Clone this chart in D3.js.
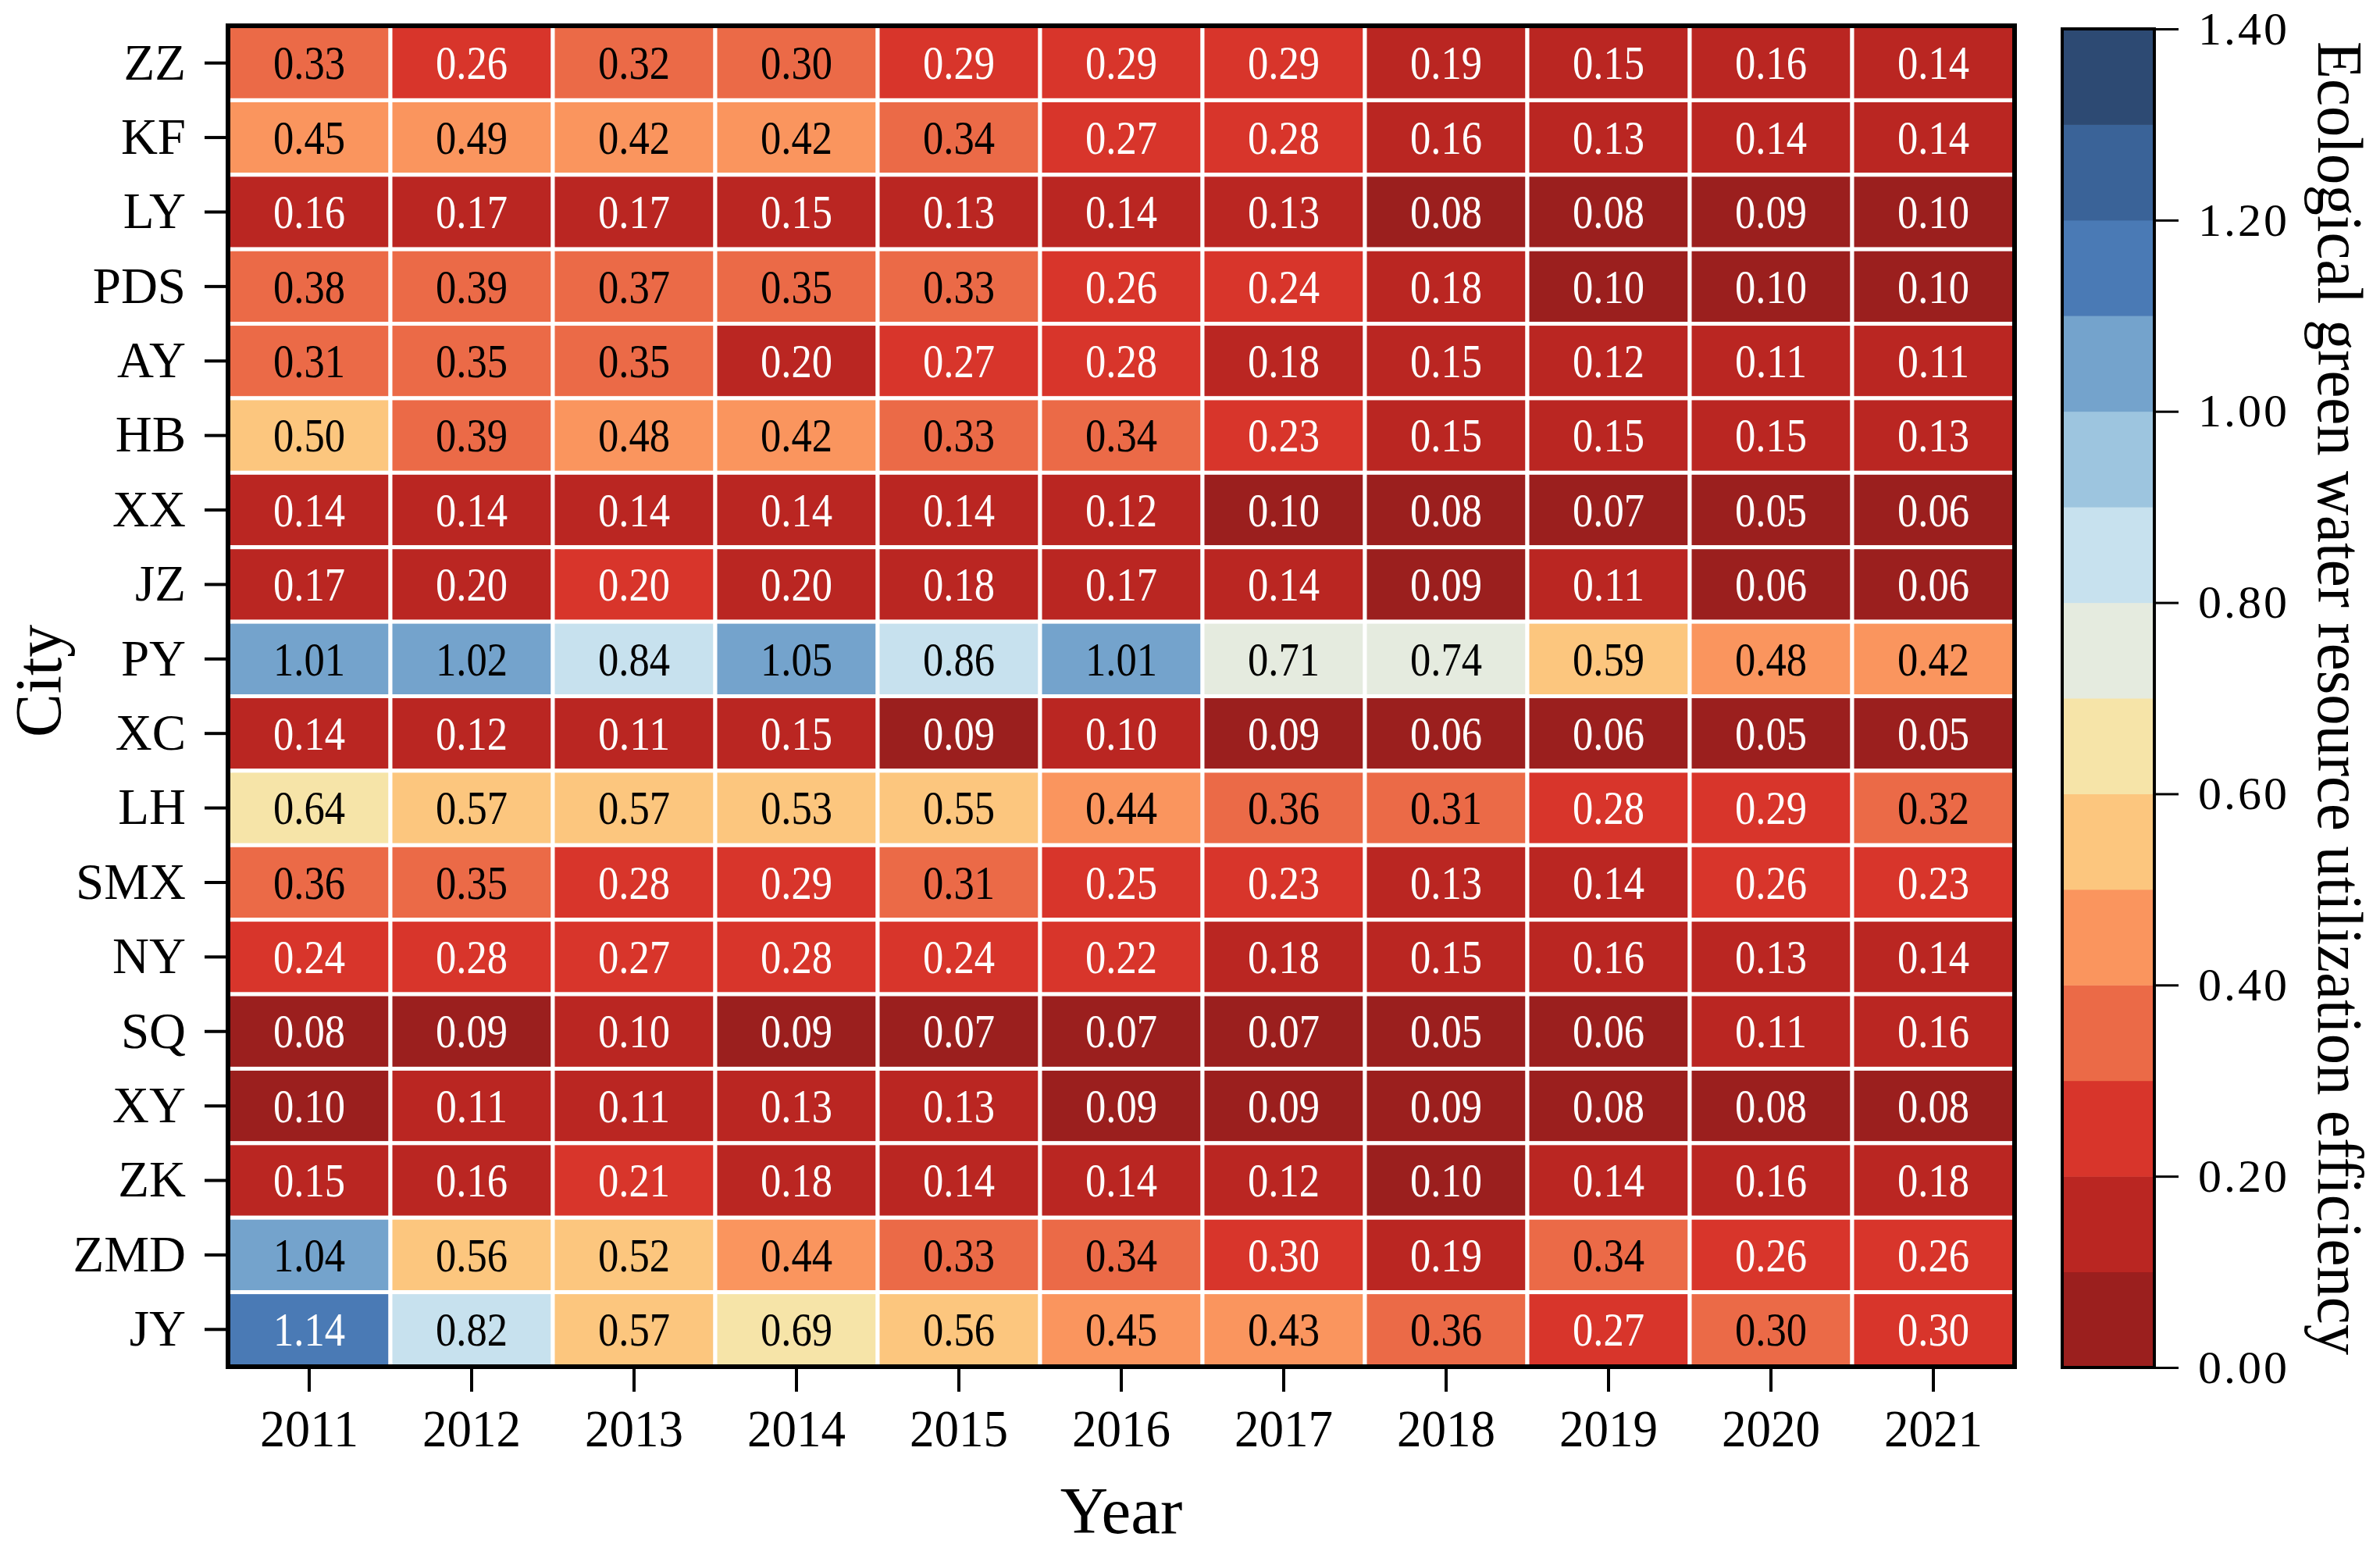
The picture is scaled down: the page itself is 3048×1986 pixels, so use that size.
<!DOCTYPE html>
<html>
<head>
<meta charset="utf-8">
<script src="https://cdn.jsdelivr.net/npm/d3@7"></script>
<style>
	body { margin: 0; background: #fff; }
	svg { display: block; }
</style>
</head>
<body>
<svg id="heatmap"></svg>
<script>
// data
const cities = ['ZZ', 'KF', 'LY', 'PDS', 'AY', 'HB', 'XX', 'JZ', 'PY', 'XC', 'LH', 'SMX', 'NY', 'SQ', 'XY', 'ZK', 'ZMD', 'JY'];
const years = ['2011', '2012', '2013', '2014', '2015', '2016', '2017', '2018', '2019', '2020', '2021'];

// one row per city, one value per year
const efficiency = [
	[0.33, 0.26, 0.32, 0.30, 0.29, 0.29, 0.29, 0.19, 0.15, 0.16, 0.14],
	[0.45, 0.49, 0.42, 0.42, 0.34, 0.27, 0.28, 0.16, 0.13, 0.14, 0.14],
	[0.16, 0.17, 0.17, 0.15, 0.13, 0.14, 0.13, 0.08, 0.08, 0.09, 0.098],
	[0.38, 0.39, 0.37, 0.35, 0.33, 0.26, 0.24, 0.18, 0.098, 0.098, 0.098],
	[0.31, 0.35, 0.35, 0.198, 0.27, 0.28, 0.18, 0.15, 0.12, 0.11, 0.11],
	[0.50, 0.39, 0.48, 0.42, 0.33, 0.34, 0.23, 0.15, 0.15, 0.15, 0.13],
	[0.14, 0.14, 0.14, 0.14, 0.14, 0.12, 0.098, 0.08, 0.07, 0.05, 0.06],
	[0.17, 0.198, 0.20, 0.198, 0.18, 0.17, 0.14, 0.09, 0.11, 0.06, 0.06],
	[1.01, 1.02, 0.84, 1.05, 0.86, 1.01, 0.71, 0.74, 0.59, 0.48, 0.42],
	[0.14, 0.12, 0.11, 0.15, 0.09, 0.10, 0.09, 0.06, 0.06, 0.05, 0.05],
	[0.64, 0.57, 0.57, 0.53, 0.55, 0.44, 0.36, 0.31, 0.28, 0.29, 0.32],
	[0.36, 0.35, 0.28, 0.29, 0.31, 0.25, 0.23, 0.13, 0.14, 0.26, 0.23],
	[0.24, 0.28, 0.27, 0.28, 0.24, 0.22, 0.18, 0.15, 0.16, 0.13, 0.14],
	[0.08, 0.09, 0.10, 0.09, 0.07, 0.07, 0.07, 0.05, 0.06, 0.11, 0.16],
	[0.098, 0.11, 0.11, 0.13, 0.13, 0.09, 0.09, 0.09, 0.08, 0.08, 0.08],
	[0.15, 0.16, 0.21, 0.18, 0.14, 0.14, 0.12, 0.098, 0.14, 0.16, 0.18],
	[1.04, 0.56, 0.52, 0.44, 0.33, 0.34, 0.298, 0.19, 0.34, 0.26, 0.26],
	[1.14, 0.82, 0.57, 0.69, 0.56, 0.45, 0.43, 0.36, 0.27, 0.302, 0.298],
];

// colour bins (0.1 wide) and colorbar ticks
const binEdges = [0.1, 0.2, 0.3, 0.4, 0.5, 0.6, 0.7, 0.8, 0.9, 1.0, 1.1, 1.2, 1.3];
const binColors = ['#9b1f1e', '#ba2622', '#d8352b', '#eb6a47', '#fa955e', '#fcc67e', '#f6e4a8',
	'#e5ebdf', '#c7e1ee', '#9dc5df', '#74a3cc', '#4a7ab5', '#3a6398', '#2d4a73'];
const colorTicks = [0, 0.2, 0.4, 0.6, 0.8, 1.0, 1.2, 1.4];

const width = 3048;
const height = 1986;
const marginLeft = 292;
const marginRight = 2580;
const marginTop = 33;
const marginBottom = 1750;
const font = "'Liberation Serif', 'Times New Roman', serif";

const svg = d3.select('#heatmap')
	.attr('width', width)
	.attr('height', height)
	.attr('viewBox', [0, 0, width, height])
	.style('font-family', font);

const x = d3.scaleBand().domain(years).range([marginLeft, marginRight]);
const y = d3.scaleBand().domain(cities).range([marginTop, marginBottom]);
const color = d3.scaleThreshold().domain(binEdges).range(binColors);

const cells = efficiency.flatMap((row, i) =>
	row.map((v, j) => ({ city: cities[i], year: years[j], value: v }))
);

// cells
svg.append('g')
	.selectAll('rect')
	.data(cells)
	.join('rect')
	.attr('x', (d) => x(d.year))
	.attr('y', (d) => y(d.city))
	.attr('width', x.bandwidth())
	.attr('height', y.bandwidth())
	.attr('fill', (d) => color(d.value))
	.attr('stroke', '#fff')
	.attr('stroke-width', 5);

// cell labels, white on dark cells (narrow, like the original)
const fmt = d3.format('.2f');
svg.append('g')
	.attr('font-size', 61)
	.attr('text-anchor', 'middle')
	.selectAll('text')
	.data(cells)
	.join('text')
	.attr('x', (d) => x(d.year) + x.bandwidth() / 2)
	.attr('y', (d) => y(d.city) + y.bandwidth() / 2)
	.attr('dy', '0.34em')
	.attr('textLength', 92)
	.attr('lengthAdjust', 'spacingAndGlyphs')
	.attr('fill', (d) => (d3.lab(color(d.value)).l < 55 ? '#fff' : '#000'))
	.text((d) => fmt(d.value));

// frame
svg.append('rect')
	.attr('x', marginLeft)
	.attr('y', marginTop)
	.attr('width', marginRight - marginLeft)
	.attr('height', marginBottom - marginTop)
	.attr('fill', 'none')
	.attr('stroke', '#000')
	.attr('stroke-width', 6);

// axes
svg.append('g')
	.attr('transform', `translate(${marginLeft - 3},0)`)
	.call(d3.axisLeft(y).tickSize(27).tickPadding(24))
	.call((g) => g.select('.domain').remove())
	.call((g) => g.selectAll('.tick line').attr('stroke-width', 4))
	.call((g) => g.selectAll('.tick text').attr('font-size', 65).attr('font-family', font).attr('fill', '#000'));

svg.append('g')
	.attr('transform', `translate(0,${marginBottom + 3})`)
	.call(d3.axisBottom(x).tickSize(29).tickPadding(22))
	.call((g) => g.select('.domain').remove())
	.call((g) => g.selectAll('.tick line').attr('stroke-width', 4))
	.call((g) => g.selectAll('.tick text').attr('font-size', 68).attr('font-family', font).attr('fill', '#000')
		.attr('textLength', 126).attr('lengthAdjust', 'spacingAndGlyphs'));

svg.append('text')
	.attr('x', (marginLeft + marginRight) / 2)
	.attr('y', 1963)
	.attr('text-anchor', 'middle')
	.attr('font-size', 85)
	.text('Year');

svg.append('text')
	.attr('transform', 'translate(78,872) rotate(-90)')
	.attr('text-anchor', 'middle')
	.attr('font-size', 84)
	.text('City');

// colorbar
const cbLeft = 2641;
const cbRight = 2759;
const cbY = d3.scaleLinear().domain([0, 1.4]).range([1751, 37]);

const bins = binColors.map((c) => {
	const [lo, hi] = color.invertExtent(c);
	return { color: c, lo: lo ?? cbY.domain()[0], hi: hi ?? cbY.domain()[1] };
});

svg.append('g')
	.selectAll('rect')
	.data(bins)
	.join('rect')
	.attr('x', cbLeft)
	.attr('y', (d) => cbY(d.hi))
	.attr('width', cbRight - cbLeft)
	.attr('height', (d) => cbY(d.lo) - cbY(d.hi) + 0.5)
	.attr('fill', (d) => d.color);

svg.append('rect')
	.attr('x', cbLeft)
	.attr('y', cbY(1.4))
	.attr('width', cbRight - cbLeft)
	.attr('height', cbY(0) - cbY(1.4))
	.attr('fill', 'none')
	.attr('stroke', '#000')
	.attr('stroke-width', 4);

svg.append('g')
	.attr('transform', `translate(${cbRight},0)`)
	.call(d3.axisRight(cbY).tickValues(colorTicks).tickFormat(d3.format('.2f')).tickSize(31).tickPadding(25))
	.call((g) => g.select('.domain').remove())
	.call((g) => g.selectAll('.tick line').attr('stroke-width', 3))
	.call((g) => g.selectAll('.tick text').attr('font-size', 60).attr('font-family', font).attr('letter-spacing', 3).attr('fill', '#000'));

svg.append('text')
	.attr('transform', `translate(2969,${(cbY(0) + cbY(1.4)) / 2}) rotate(90)`)
	.attr('text-anchor', 'middle')
	.attr('font-size', 82)
	.attr('textLength', 1682)
	.attr('lengthAdjust', 'spacingAndGlyphs')
	.text('Ecological green water resource utilization efficiency');
</script>
</body>
</html>
